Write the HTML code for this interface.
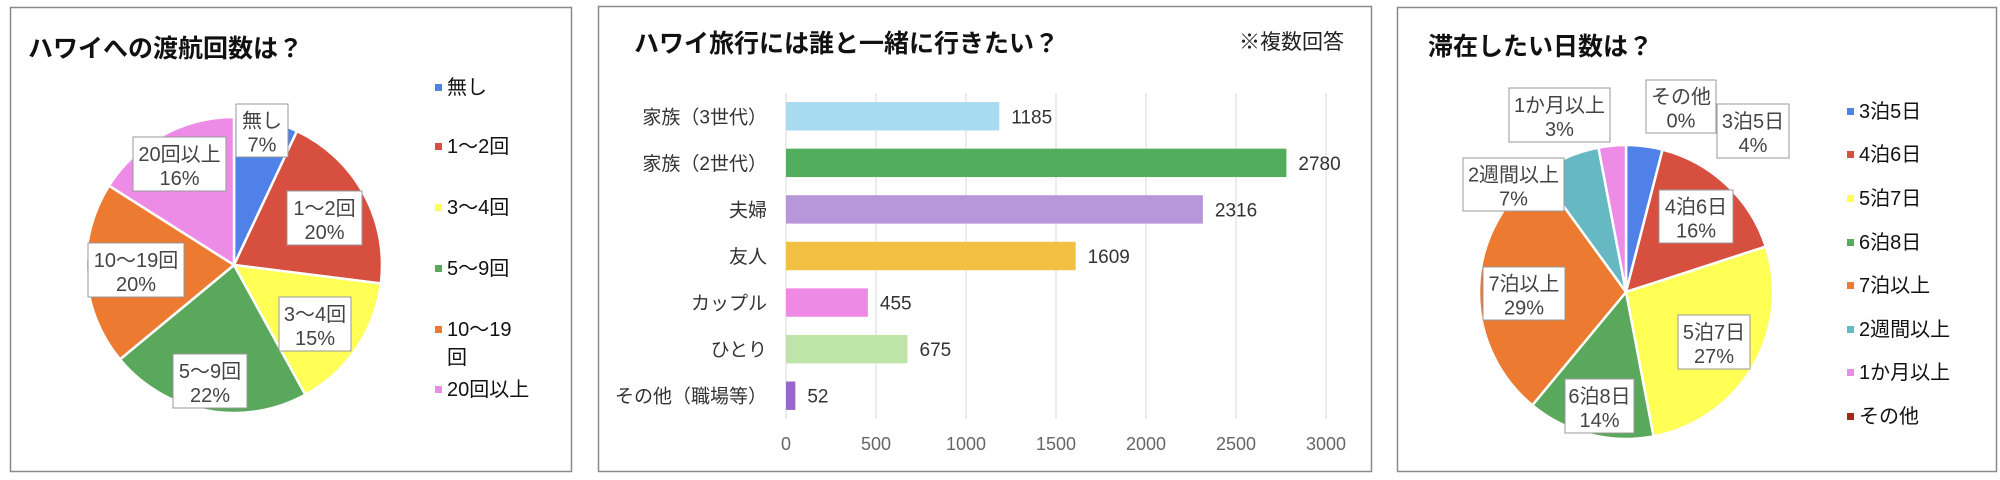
<!DOCTYPE html>
<html><head><meta charset="utf-8">
<style>
html,body{margin:0;padding:0;background:#fff;}
svg{display:block;font-family:"Liberation Sans","Noto Sans CJK JP",sans-serif;}
</style></head>
<body>
<svg id="root" width="2000" height="480" viewBox="0 0 2000 480" xmlns="http://www.w3.org/2000/svg">
  <rect x="10.5" y="7.5" width="561" height="464" fill="#fff" stroke="#8a8a8a" stroke-width="1.5"/>
  <rect x="598.5" y="6.5" width="773" height="465" fill="#fff" stroke="#8a8a8a" stroke-width="1.5"/>
  <rect x="1397.5" y="7.5" width="599" height="464" fill="#fff" stroke="#8a8a8a" stroke-width="1.5"/>

  <text x="28" y="57" font-size="25" font-weight="bold" fill="#111">ハワイへの渡航回数は？</text>
  <text x="634" y="52" font-size="25" font-weight="bold" fill="#111">ハワイ旅行には誰と一緒に行きたい？</text>
  <text x="1239" y="49" font-size="21" fill="#222">※複数回答</text>
  <text x="1428" y="55" font-size="25" font-weight="bold" fill="#111">滞在したい日数は？</text>

  <g id="pie1"></g>
  <g id="pie1labels"></g>
  <g id="legend1"></g>

  <g id="bars"></g>

  <g id="pie3"></g>
  <g id="pie3labels"></g>
  <g id="legend3"></g>
</svg>
<script>
// ---- chart 1 data ----
const visitCats = ["無し","1〜2回","3〜4回","5〜9回","10〜19回","20回以上"];
const visitVals = [7,20,15,22,20,16];
const visitColors = ["#4f81e8","#d64f3f","#ffff55","#5aa85c","#ec7a30","#ec8ce6"];
// ---- chart 2 data ----
const compCats = ["家族（3世代）","家族（2世代）","夫婦","友人","カップル","ひとり","その他（職場等）"];
const compVals = [1185,2780,2316,1609,455,675,52];
const compColors = ["#a8dbf2","#52ad5c","#b796da","#f2c043","#ee8ae6","#bfe4a7","#9b66cc"];
const compTicks = [0,500,1000,1500,2000,2500,3000];
// ---- chart 3 data ----
const stayCats = ["3泊5日","4泊6日","5泊7日","6泊8日","7泊以上","2週間以上","1か月以上","その他"];
const stayVals = [4,16,27,14,29,7,3,0];
const stayColors = ["#4f81e8","#d64f3f","#ffff55","#5aa85c","#ec7a30","#66b8c2","#ec8ce6","#9b2a1f"];

const NS="http://www.w3.org/2000/svg";
function mk(tag,attrs,parent){const e=document.createElementNS(NS,tag);for(const k in attrs)e.setAttribute(k,attrs[k]);parent.appendChild(e);return e;}

function drawPie(g,cx,cy,r,vals,colors,cats){
  const total=vals.reduce((a,b)=>a+b,0);
  let a0=0;
  vals.forEach((v,i)=>{
    const a1=a0+v/total*2*Math.PI;
    if(v>0){
      const x0=cx+r*Math.sin(a0),y0=cy-r*Math.cos(a0);
      const x1=cx+r*Math.sin(a1),y1=cy-r*Math.cos(a1);
      const large=(a1-a0)>Math.PI?1:0;
      const p=mk('path',{d:`M${cx},${cy}L${x0},${y0}A${r},${r} 0 ${large} 1 ${x1},${y1}Z`,fill:colors[i],stroke:'#fff','stroke-width':2.5},g);
      
      
    }
    a0=a1;
  });
}
function drawLabels(g,boxes,cats,vals){
  boxes.forEach((b,i)=>{
    const grp=mk('g',{},g);
    
    
    mk('rect',{x:b[0],y:b[1],width:b[2],height:b[3],fill:'#fff',stroke:'#999','stroke-width':1},grp);
    const cx=b[0]+b[2]/2;
    const t1=mk('text',{x:cx,y:b[1]+b[3]/2-3,'text-anchor':'middle','font-size':20,fill:'#444'},grp);
    t1.textContent=cats[i];
    const t2=mk('text',{x:cx,y:b[1]+b[3]/2+21,'text-anchor':'middle','font-size':20,fill:'#444'},grp);
    t2.textContent=vals[i]+'%';
  });
}
function drawLegend(g,x,ys,cats,colors,bold){
  cats.forEach((c,i)=>{
    const item=mk('g',{},g);
    
    
    mk('rect',{x:x,y:ys[i]-10,width:7,height:7,fill:colors[i]},item);
    const t=mk('text',{x:x+12,y:ys[i],'font-size':20,fill:'#111','font-weight':bold?'bold':'normal'},item);
    t.textContent=c;
  });
}

// chart 1
drawPie(document.getElementById('pie1'),234,265,148,visitVals,visitColors,visitCats);
drawLabels(document.getElementById('pie1labels'),
  [[236,104,52,53],[287,191,75,54],[279,297,72,54],[173,354,74,54],[88,243,96,54],[133,137,93,54]],
  visitCats,visitVals);
(function(){
  const g=document.getElementById('legend1');
  const labs=["無し","1〜2回","3〜4回","5〜9回","10〜19","20回以上"];
  drawLegend(g,435,[94,153,214,275,336,396],labs,visitColors,false);
  const t=mk('text',{x:447,y:364,'font-size':20,fill:'#111'},g);
  
  
  t.textContent='回';
})();

// chart 2
(function(){
  const g=document.getElementById('bars');
  const x0=786,x1=1326,top=93,bottom=419,maxV=3000;
  const xs=v=>x0+(v/maxV)*(x1-x0);
  const band=(bottom-top)/compCats.length;
  compTicks.forEach(t=>{
    const l=mk('line',{x1:xs(t),x2:xs(t),y1:top,y2:bottom,stroke:'#d9d9d9','stroke-width':1},g);
    
    
    const tx=mk('text',{x:xs(t),y:450,'text-anchor':'middle','font-size':18,fill:'#666'},g);
    
    
    tx.textContent=t;
  });
  compCats.forEach((c,i)=>{
    const yc=top+band*(i+0.5);
    const bh=band*0.61;
    const r=mk('rect',{x:x0,y:yc-bh/2,width:xs(compVals[i])-x0,height:bh,fill:compColors[i]},g);
    
    
    const lab=mk('text',{x:767,y:yc+7,'text-anchor':'end','font-size':19,fill:'#333'},g);
    
    
    lab.textContent=c;
    const val=mk('text',{x:xs(compVals[i])+12,y:yc+7,'font-size':19,fill:'#333'},g);
    
    
    val.textContent=compVals[i];
  });
})();

// chart 3
drawPie(document.getElementById('pie3'),1626,292,147,stayVals,stayColors,stayCats);
drawLabels(document.getElementById('pie3labels'),
  [[1717,104,72,54],[1659,190,74,53],[1678,315,72,54],[1565,379,69,54],[1483,267,82,53],[1463,158,101,53],[1509,88,101,54],[1646,80,70,53]],
  stayCats,stayVals);
drawLegend(document.getElementById('legend3'),1847,[118,161,205,249,292,336,379,423],stayCats,stayColors,false);
</script>
</body></html>
